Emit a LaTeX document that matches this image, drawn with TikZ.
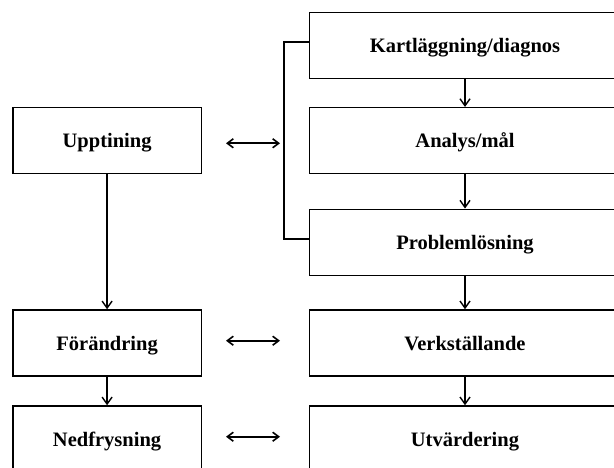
\documentclass[tikz,border=0pt]{standalone}
\usepackage{fontspec}
\setmainfont{Liberation Serif}
\usetikzlibrary{arrows.meta}
\begin{document}
\begin{tikzpicture}[x=1pt,y=-1pt,
  lbox/.style={draw, line width=1.5pt, minimum width=188.6pt, minimum height=66pt, inner sep=0pt, text height=14pt, text depth=0pt, font=\fontsize{20.5}{24}\selectfont\bfseries},
  rbox/.style={lbox, minimum width=311.4pt},
  flow/.style={line width=1.6pt, -{Straight Barb[length=7pt,width=10pt,line width=1.4pt]}},
  both/.style={line width=1.6pt, {Straight Barb[length=6pt,width=9pt,line width=1.6pt]}-{Straight Barb[length=6pt,width=9pt,line width=1.6pt]}},
  bracket/.style={line width=2.2pt}]
\useasboundingbox (0,0) rectangle (614,468);
\clip (0,0) rectangle (614,468);
\node[lbox] (upp) at (107.1,140.7) {Upptining};
\node[lbox] (for) at (107.1,343) {Förändring};
\node[lbox] (ned) at (107.1,439) {Nedfrysning};
\node[rbox] (kart) at (465,45.3) {Kartläggning/diagnos};
\node[rbox] (ana) at (465,140.7) {Analys/mål};
\node[rbox] (prob) at (465,242.3) {Problemlösning};
\node[rbox] (verk) at (465,343) {Verkställande};
\node[rbox] (utv) at (465,439) {Utvärdering};
\coordinate (a1) at (226,143.3);
\coordinate (b1) at (280,143.3);
\coordinate (a2) at (226,340.7);
\coordinate (b2) at (280,340.7);
\coordinate (a3) at (226,436.7);
\coordinate (b3) at (280,436.7);
\draw[flow] (upp) -- (for);
\draw[flow] (for) -- (ned);
\draw[flow] (kart) -- (ana);
\draw[flow] (ana) -- (prob);
\draw[flow] (prob) -- (verk);
\draw[flow] (verk) -- (utv);
\draw[both] (a1) -- (b1);
\draw[both] (a2) -- (b2);
\draw[both] (a3) -- (b3);
\draw[bracket] ([yshift=3.3pt]kart.west) -- ++(-24.3,0) |- ([yshift=3pt]prob.west);
\end{tikzpicture}
\end{document}
